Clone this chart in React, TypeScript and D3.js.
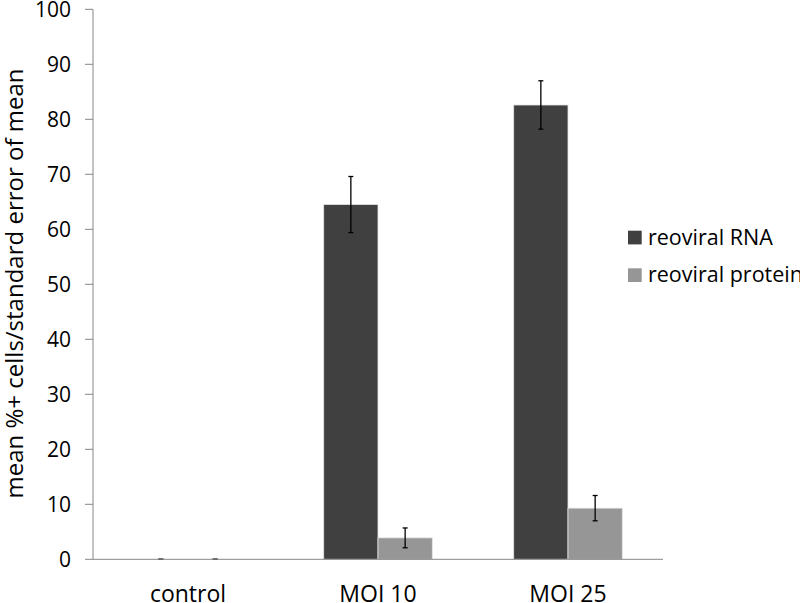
import React from 'react';
import * as d3 from 'd3';

const categories = ['control', 'MOI 10', 'MOI 25'];
const seriesNames = ['reoviral RNA', 'reoviral protein'];
const rnaValues = [0, 64.5, 82.6];
const rnaErrors = [0, 5.1, 4.4];
const proteinValues = [0, 3.9, 9.3];
const proteinErrors = [0, 1.8, 2.3];
const yTicks = [0, 10, 20, 30, 40, 50, 60, 70, 80, 90, 100];
const colors = ['#404040', '#969696'];

const FONT = '"Open Sans", sans-serif';

const App = () => {
  const width = 800;
  const height = 603;
  const left = 93;
  const right = 663;
  const top = 9.3;
  const bottom = 559.3;

  const x = d3.scaleBand().domain(categories).range([left, right]).paddingInner(0).paddingOuter(0);
  const y = d3.scaleLinear().domain([0, 100]).range([bottom, top]);
  const inner = d3.scaleBand().domain(seriesNames).range([0, 108.6]);

  const series = [
    { name: seriesNames[0], values: rnaValues, errors: rnaErrors },
    { name: seriesNames[1], values: proteinValues, errors: proteinErrors },
  ];

  return (
    <svg width={width} height={height} style={{ position: 'absolute', left: 0, top: 0 }}>
      <rect width={width} height={height} fill="#fff" />
      {series.map((s, si) =>
        categories.map((c, ci) => {
          const groupX = x(c) + (x.bandwidth() - 108.6) / 2;
          const bx = groupX + inner(s.name);
          const bw = inner.bandwidth();
          const v = s.values[ci];
          const e = s.errors[ci];
          const cx = bx + bw / 2;
          return (
            <g key={s.name + c}>
              {v > 0 && (
                <rect
                  x={bx}
                  y={y(v)}
                  width={bw}
                  height={y(0) - y(v)}
                  fill={colors[si]}
                  stroke="#e4e4e4"
                  strokeWidth={0.8}
                />
              )}
              <line x1={cx} x2={cx} y1={y(v + e)} y2={y(v - e)} stroke="#000" strokeWidth={1.3} />
              <line x1={cx - 2.5} x2={cx + 2.5} y1={y(v + e)} y2={y(v + e)} stroke="#000" strokeWidth={1.3} />
              <line x1={cx - 2.5} x2={cx + 2.5} y1={y(v - e)} y2={y(v - e)} stroke="#000" strokeWidth={1.3} />
            </g>
          );
        })
      )}
      <line x1={left} x2={left} y1={top} y2={bottom} stroke="#868686" strokeWidth={1} />
      <line x1={left} x2={right} y1={bottom} y2={bottom} stroke="#868686" strokeWidth={1} />
      {yTicks.map(t => (
        <g key={t}>
          <line x1={left - 8} x2={left} y1={y(t)} y2={y(t)} stroke="#868686" strokeWidth={1} />
          <text
            x={71}
            y={y(t)}
            dy="0.36em"
            textAnchor="end"
            fontFamily={FONT}
            fontSize={21}
            fill="#000"
          >
            {t}
          </text>
        </g>
      ))}
      {categories.map(c => (
        <text
          key={c}
          x={x(c) + x.bandwidth() / 2}
          y={601.5}
          textAnchor="middle"
          fontFamily={FONT}
          fontSize={23}
          fill="#000"
        >
          {c}
        </text>
      ))}
      <text
        transform={`translate(22.5, 283.5) rotate(-90)`}
        textAnchor="middle"
        fontFamily={FONT}
        fontSize={24}
        fill="#000"
      >
        mean %+ cells/standard error of mean
      </text>
      {series.map((s, si) => (
        <g key={s.name} transform={`translate(628, ${230.7 + si * 37.6})`}>
          <rect width={13.7} height={13.7} fill={colors[si]} />
          <text x={20} y={13.8} fontFamily={FONT} fontSize={21.5} fill="#000">
            {s.name}
          </text>
        </g>
      ))}
    </svg>
  );
};

export default App;
